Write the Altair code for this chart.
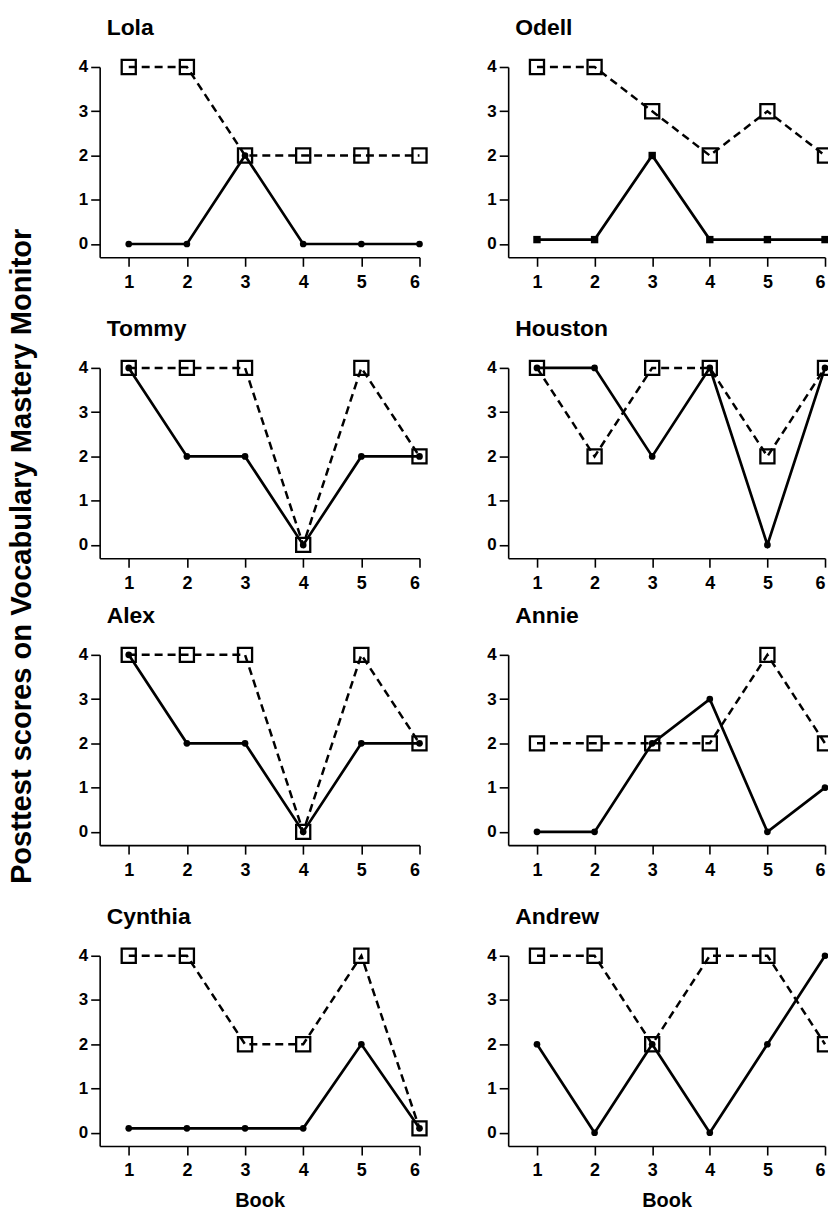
import altair as alt
import pandas as pd

students = ["Lola", "Odell", "Tommy", "Houston", "Alex", "Annie", "Cynthia", "Andrew"]
books = [1, 2, 3, 4, 5, 6]

# solid line (filled markers)
solid_lola = [0, 0, 2, 0, 0, 0]
solid_odell = [0.1, 0.1, 2, 0.1, 0.1, 0.1]
solid_tommy = [4, 2, 2, 0, 2, 2]
solid_houston = [4, 4, 2, 4, 0, 4]
solid_alex = [4, 2, 2, 0, 2, 2]
solid_annie = [0, 0, 2, 3, 0, 1]
solid_cynthia = [0.1, 0.1, 0.1, 0.1, 2, 0.1]
solid_andrew = [2, 0, 2, 0, 2, 4]

# dashed line (open squares)
dashed_lola = [4, 4, 2, 2, 2, 2]
dashed_odell = [4, 4, 3, 2, 3, 2]
dashed_tommy = [4, 4, 4, 0, 4, 2]
dashed_houston = [4, 2, 4, 4, 2, 4]
dashed_alex = [4, 4, 4, 0, 4, 2]
dashed_annie = [2, 2, 2, 2, 4, 2]
dashed_cynthia = [4, 4, 2, 2, 4, 0.1]
dashed_andrew = [4, 4, 2, 4, 4, 2]

y_ticks = [0, 1, 2, 3, 4]
y_title = "Posttest scores on Vocabulary Mastery Monitor"
x_title = "Book"

solid_values = [solid_lola, solid_odell, solid_tommy, solid_houston,
                solid_alex, solid_annie, solid_cynthia, solid_andrew]
dashed_values = [dashed_lola, dashed_odell, dashed_tommy, dashed_houston,
                 dashed_alex, dashed_annie, dashed_cynthia, dashed_andrew]

FONT = "Liberation Sans"
solid_shape = {"Odell": "square"}


def panel(idx, bottom, width):
    name = students[idx]
    ds = pd.DataFrame({"book": books, "value": solid_values[idx]})
    dd = pd.DataFrame({"book": books, "value": dashed_values[idx]})
    x = alt.X("book:Q",
              scale=alt.Scale(domain=[0.5, 6], nice=False, zero=False),
              axis=alt.Axis(values=books, title=x_title if bottom else None,
                            labelFontSize=18, titleFontSize=20, labelPadding=7))
    y = alt.Y("value:Q",
              scale=alt.Scale(domain=[-0.3, 4], nice=False, zero=False),
              axis=alt.Axis(values=y_ticks, title=None, labelFontSize=17,
                            labelPadding=3))
    dline = alt.Chart(dd).mark_line(color="black", strokeWidth=2.5,
                                    strokeDash=[8, 5]).encode(x=x, y=y)
    sline = alt.Chart(ds).mark_line(color="black", strokeWidth=2.7).encode(x=x, y=y)
    sq = alt.Chart(dd).mark_point(shape="square", filled=False, color="black",
                                  size=200, strokeWidth=2.3, opacity=1).encode(x=x, y=y)
    shape = solid_shape.get(name, "circle")
    dots = alt.Chart(ds).mark_point(shape=shape, filled=True, color="black",
                                    size=55 if shape == "square" else 45,
                                    opacity=1).encode(x=x, y=y)
    return alt.layer(dline, sline, sq, dots).properties(
        width=width, height=191,
        title=alt.TitleParams(name, anchor="start", frame="group", fontSize=23,
                              fontWeight="bold", font=FONT, color="black",
                              offset=15, dx=7),
    )


def row(r):
    return alt.hconcat(panel(2 * r, r == 3, 321), panel(2 * r + 1, r == 3, 318),
                       spacing=55)


middle = alt.vconcat(row(1), row(2), spacing=13)
chart = alt.vconcat(row(0), middle, row(3), spacing=27).properties(
    title=alt.TitleParams(y_title, orient="left", anchor="middle", fontSize=29.2,
                          fontWeight="bold", font=FONT, color="black",
                          offset=41, dx=58),
    padding={"left": 0, "top": 7, "right": -9, "bottom": 0},
).configure_view(stroke=None).configure_axis(
    domainColor="black", domainWidth=1.6, tickColor="black", tickWidth=1.6,
    tickSize=9, grid=False, labelFont=FONT, labelFontWeight="bold",
    labelColor="black", titleFont=FONT, titleFontWeight="bold",
    titleColor="black", titlePadding=11,
)

chart.save("out.html", embed_options={"renderer": "svg", "actions": False})
